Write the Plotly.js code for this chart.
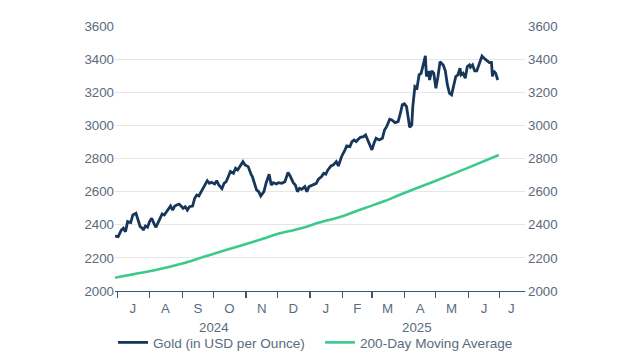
<!DOCTYPE html>
<html>
<head>
<meta charset="utf-8">
<script src="https://cdn.plot.ly/plotly-3.0.1.min.js"></script>
<style>html,body{margin:0;padding:0;background:#fff;}#chart{width:640px;height:361px;}</style>
</head>
<body>
<div id="chart"></div>
<script>
const goldDates = ["2024-06-29","2024-07-02","2024-07-05","2024-07-07","2024-07-09","2024-07-11","2024-07-14","2024-07-16","2024-07-19","2024-07-21","2024-07-23","2024-07-25","2024-07-26","2024-07-28","2024-07-30","2024-08-01","2024-08-03","2024-08-05","2024-08-07","2024-08-10","2024-08-13","2024-08-15","2024-08-17","2024-08-19","2024-08-21","2024-08-23","2024-08-25","2024-08-27","2024-08-29","2024-08-31","2024-09-02","2024-09-04","2024-09-06","2024-09-08","2024-09-11","2024-09-13","2024-09-15","2024-09-17","2024-09-20","2024-09-23","2024-09-25","2024-09-27","2024-09-29","2024-10-02","2024-10-04","2024-10-06","2024-10-09","2024-10-11","2024-10-13","2024-10-15","2024-10-17","2024-10-20","2024-10-22","2024-10-24","2024-10-26","2024-10-29","2024-10-31","2024-11-03","2024-11-06","2024-11-07","2024-11-09","2024-11-11","2024-11-13","2024-11-15","2024-11-18","2024-11-20","2024-11-23","2024-11-25","2024-11-27","2024-11-30","2024-12-02","2024-12-05","2024-12-08","2024-12-11","2024-12-13","2024-12-16","2024-12-18","2024-12-20","2024-12-22","2024-12-24","2024-12-27","2024-12-29","2024-12-31","2025-01-04","2025-01-07","2025-01-09","2025-01-12","2025-01-14","2025-01-16","2025-01-18","2025-01-21","2025-01-23","2025-01-26","2025-01-28","2025-01-31","2025-02-03","2025-02-05","2025-02-08","2025-02-10","2025-02-12","2025-02-14","2025-02-16","2025-02-18","2025-02-21","2025-02-23","2025-02-25","2025-02-27","2025-03-01","2025-03-03","2025-03-05","2025-03-08","2025-03-11","2025-03-13","2025-03-15","2025-03-18","2025-03-20","2025-03-23","2025-03-26","2025-03-28","2025-03-30","2025-04-01","2025-04-03","2025-04-06","2025-04-08","2025-04-09","2025-04-11","2025-04-13","2025-04-15","2025-04-17","2025-04-20","2025-04-21","2025-04-22","2025-04-24","2025-04-25","2025-04-27","2025-04-29","2025-05-01","2025-05-03","2025-05-05","2025-05-08","2025-05-10","2025-05-12","2025-05-14","2025-05-16","2025-05-17","2025-05-20","2025-05-22","2025-05-24","2025-05-25","2025-05-27","2025-05-29","2025-05-31","2025-06-02","2025-06-03","2025-06-05","2025-06-07","2025-06-09","2025-06-12","2025-06-14","2025-06-17","2025-06-19","2025-06-21","2025-06-23","2025-06-24","2025-06-25","2025-06-27","2025-06-29"];
const goldValues = [2332,2328,2368,2379,2358,2419,2413,2459,2469,2425,2388,2379,2368,2393,2385,2419,2439,2409,2385,2425,2465,2459,2479,2493,2513,2489,2513,2519,2525,2513,2499,2509,2489,2509,2513,2560,2580,2574,2610,2650,2666,2650,2656,2646,2666,2640,2618,2650,2660,2690,2721,2711,2741,2731,2751,2781,2761,2751,2701,2691,2650,2610,2600,2574,2600,2650,2705,2640,2654,2646,2654,2650,2660,2715,2695,2654,2640,2600,2620,2614,2630,2600,2630,2640,2650,2675,2691,2711,2705,2731,2755,2760,2781,2755,2811,2847,2876,2872,2902,2912,2902,2916,2928,2932,2942,2912,2882,2852,2892,2922,2912,2922,2972,2992,3037,3033,3017,3023,3069,3124,3130,3113,2989,3003,3113,3234,3225,3305,3315,3405,3420,3295,3329,3274,3329,3315,3224,3295,3385,3365,3329,3244,3194,3184,3214,3295,3305,3345,3305,3315,3285,3355,3365,3351,3365,3329,3329,3385,3419,3400,3390,3379,3380,3295,3329,3315,3274];

const maDates = ["2024-06-29","2024-08-10","2024-09-02","2024-09-17","2024-09-26","2024-10-29","2024-11-17","2024-12-03","2024-12-22","2025-01-10","2025-02-01","2025-02-23","2025-03-14","2025-03-27","2025-04-28","2025-06-01","2025-06-30"];
const maValues = [2080,2131,2167,2197,2215,2278,2315,2348,2376,2413,2452,2503,2545,2580,2658,2745,2821];

const monthLabelDates = ["2024-07-16","2024-08-16","2024-09-16","2024-10-16","2024-11-16","2024-12-16","2025-01-16","2025-02-15","2025-03-16","2025-04-16","2025-05-16","2025-06-16","2025-07-12"];
const monthLabels = ["J","A","S","O","N","D","J","F","M","A","M","J","J"];
const yearLabelDates = ["2024-10-01","2025-04-13"];
const yearLabels = ["2024","2025"];
const yTicks = [2000,2200,2400,2600,2800,3000,3200,3400,3600];

const seriesNames = ["Gold (in USD per Ounce)","200-Day Moving Average"];

const textColor = "#5a6b7c";
const fontFam = "Liberation Sans, Arial, sans-serif";
const fs = 13.3;

const traces = [
  {x: goldDates, y: goldValues, type: "scatter", mode: "lines", name: seriesNames[0],
   line: {color: "#17375a", width: 2.8}, yaxis: "y"},
  {x: maDates, y: maValues, type: "scatter", mode: "lines", name: seriesNames[1],
   line: {color: "#3cc98c", width: 2.6, shape: "spline", smoothing: 0.6}, yaxis: "y2"}
];

const annotations = yearLabels.map((t, i) => ({
  x: yearLabelDates[i], xref: "x", y: 0, yref: "paper", yshift: -36,
  text: t, showarrow: false, xanchor: "center", yanchor: "middle",
  font: {family: fontFam, size: fs, color: textColor}
}));

const layout = {
  width: 640, height: 361,
  margin: {l: 115, r: 115, t: 26, b: 70, autoexpand: false},
  paper_bgcolor: "#fff", plot_bgcolor: "#fff",
  font: {family: fontFam, size: fs, color: textColor},
  showlegend: true,
  legend: {orientation: "h", x: 0.5, xanchor: "center", y: -0.136, yanchor: "top",
           entrywidth: 162, entrywidthmode: "pixels",
           font: {family: fontFam, size: 13.6, color: textColor}, traceorder: "normal"},
  xaxis: {
    type: "date", range: ["2024-06-29", "2025-07-25"],
    tickmode: "array", tickvals: monthLabelDates, ticktext: monthLabels,
    ticks: "", ticklabelstandoff: 5, showgrid: false, zeroline: false,
    showline: true, linecolor: "#3b5676", linewidth: 1.2,
    minor: {tick0: "2024-07-01", dtick: "M1", ticks: "outside", ticklen: 6, tickwidth: 1.2, tickcolor: "#3b5676", showgrid: false},
    tickfont: {family: fontFam, size: fs, color: textColor}, fixedrange: true
  },
  yaxis: {
    range: [2000, 3600], tickmode: "array", tickvals: yTicks,
    showgrid: true, gridcolor: "#e6e6e6", gridwidth: 1, zeroline: false, showline: false,
    ticks: "", tickfont: {family: fontFam, size: fs, color: textColor}
  },
  yaxis2: {
    range: [2000, 3600], tickmode: "array", tickvals: yTicks,
    overlaying: "y", side: "right", showgrid: false, zeroline: false, showline: false,
    ticks: "", ticklabelstandoff: 2, tickfont: {family: fontFam, size: fs, color: textColor}
  },
  annotations: annotations
};

Plotly.newPlot("chart", traces, layout, {staticPlot: true, displayModeBar: false});
</script>
</body>
</html>
